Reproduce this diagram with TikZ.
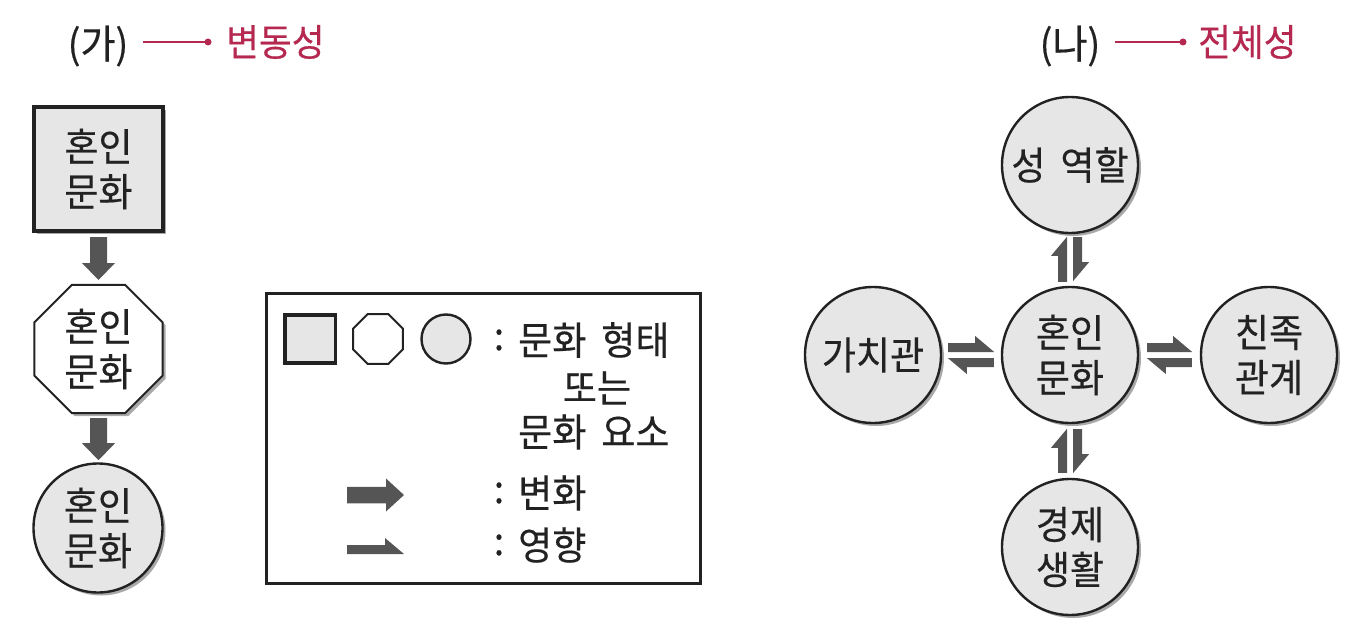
\documentclass[tikz,border=0pt]{standalone}
\usepackage{fontspec}
\setmainfont{Noto Sans CJK KR}[FakeStretch=0.95, WordSpace=1.8, FakeBold=0.4]
\usetikzlibrary{shapes.geometric,shadows,calc}
\definecolor{fillg}{HTML}{E6E6E6}
\definecolor{arrg}{HTML}{555555}
\definecolor{lineg}{HTML}{222222}
\definecolor{mag}{HTML}{B52850}
\definecolor{shad}{HTML}{9A9A9A}
\newcommand\fatdown[2]{\fill[arrg] (#1) -- ++(17,0) -- ++(0,{#2-17}) -- ++(8,0) -- ++(-16.5,17) -- ++(-16.5,-17) -- ++(8,0) -- cycle;}
\newcommand\hpR[2]{\fill[arrg] (#1) -- ++({#2-19},0) -- ++(0,-7) -- ++(19,16) -- ++(-#2,0) -- cycle;}
\newcommand\hpL[2]{\fill[arrg] (#1) -- ++({19-#2},0) -- ++(0,7) -- ++(-19,-16) -- ++(#2,0) -- cycle;}
\newcommand\hpU[2]{\fill[arrg] (#1) -- ++(0,-#2) -- ++(-16,19) -- ++(7,0) -- ++(0,{#2-19}) -- cycle;}
\newcommand\hpD[2]{\fill[arrg] (#1) -- ++(0,#2) -- ++(16,-19) -- ++(-7,0) -- ++(0,{19-#2}) -- cycle;}
\begin{document}
\begin{tikzpicture}[x=1pt,y=-1pt,
  every node/.style={font=\fontsize{39}{45}\selectfont, text=lineg, align=center, inner sep=0pt},
  shd/.style={drop shadow={shadow xshift=3pt, shadow yshift=-3pt, fill=shad, opacity=0.85}},
  circ/.style={draw=lineg, fill=fillg, line width=2.4pt, circle, minimum size=#1},
  octo/.style={draw=lineg, fill=white, line width=2pt, regular polygon, regular polygon sides=8, minimum size=#1},
  sqr/.style={draw=lineg, fill=fillg, line width=#1},
  ttl/.style={font=\fontsize{40}{45}\selectfont},
  magt/.style={font=\fontsize{37.5}{42}\selectfont, text=mag},
  magline/.style={draw=mag, line width=2pt}
]
\useasboundingbox (0,0) rectangle (1361,634);

% ---- (가) title
\node[ttl] (ga) at (98,46) {(가)};
\node[magt, anchor=west] (bd) at (226,42) {변동성};
\coordinate (ga1) at (143,42);
\coordinate (ga2) at (208,42);
\draw[magline] (ga1) -- (ga2);
\fill[mag] (ga2) circle (3.5);

% ---- (가) chain
\node[sqr=4pt, shd, minimum width=129, minimum height=124] (sq) at (98.5,169) {혼인\\문화};
\node[octo=139, shd] (oc) at (98.5,349) {혼인\\문화};
\node[circ=129, shd] (ci) at (98,528) {혼인\\문화};
\fatdown{$(sq.south)+(-8.5,4)$}{43}
\fatdown{$(oc.south)+(-8.5,4)$}{42}

% ---- legend
\node[draw=lineg, line width=2.5pt, minimum width=434, minimum height=290] (lg) at (483.5,438.5) {};
\node[sqr=3.5pt, minimum width=50.5, minimum height=48] (lsq) at (310,339) {};
\node[octo=54] (loc) at (378,339) {};
\node[circ=49] (lci) at (446,339) {};
\node (c1) at (499,340) {:};
\node[anchor=west] (t1) at (518,340) {문화 형태};
\node (t2) at (597,388) {또는};
\node[anchor=west] (t3) at (518,432) {문화 요소};
\node (c2) at (499,493) {:};
\node[anchor=west] (t4) at (518,493) {변화};
\node (c3) at (499,545) {:};
\node[anchor=west] (t5) at (518,545) {영향};
\fill[arrg] (347,486.75) -- (386,486.75) -- (386,478.5) -- (404,495) -- (386,511.5) -- (386,503.25) -- (347,503.25) -- cycle;
\hpR{347,545}{57}

% ---- (나) title
\node[ttl] (na) at (1070,46) {(나)};
\node[magt, anchor=west] (jc) at (1198,42) {전체성};
\coordinate (na1) at (1115,42);
\coordinate (na2) at (1183,42);
\draw[magline] (na1) -- (na2);
\fill[mag] (na2) circle (3.5);

% ---- (나) network
\node[circ=136, shd] (C) at (1070,355) {혼인\\문화};
\node[circ=136, shd] (T) at (1070,165) {성 역할};
\node[circ=136, shd] (B) at (1070,547) {경제\\생활};
\node[circ=136, shd] (L) at (873,355) {가치관};
\node[circ=136, shd] (R) at (1269,355) {친족\\관계};

\hpU{$(C.north)+(-3,-4)$}{45}
\hpD{$(T.south)+(3,3)$}{44}
\hpU{$(B.north)+(-3,-5)$}{44}
\hpD{$(C.south)+(3,5)$}{44}
\hpR{$(L.east)+(6,-12)$}{46}
\hpL{$(C.west)+(-7,12)$}{46}
\hpR{$(C.east)+(8,-12)$}{45}
\hpL{$(R.west)+(-8,12)$}{45}
\end{tikzpicture}
\end{document}
